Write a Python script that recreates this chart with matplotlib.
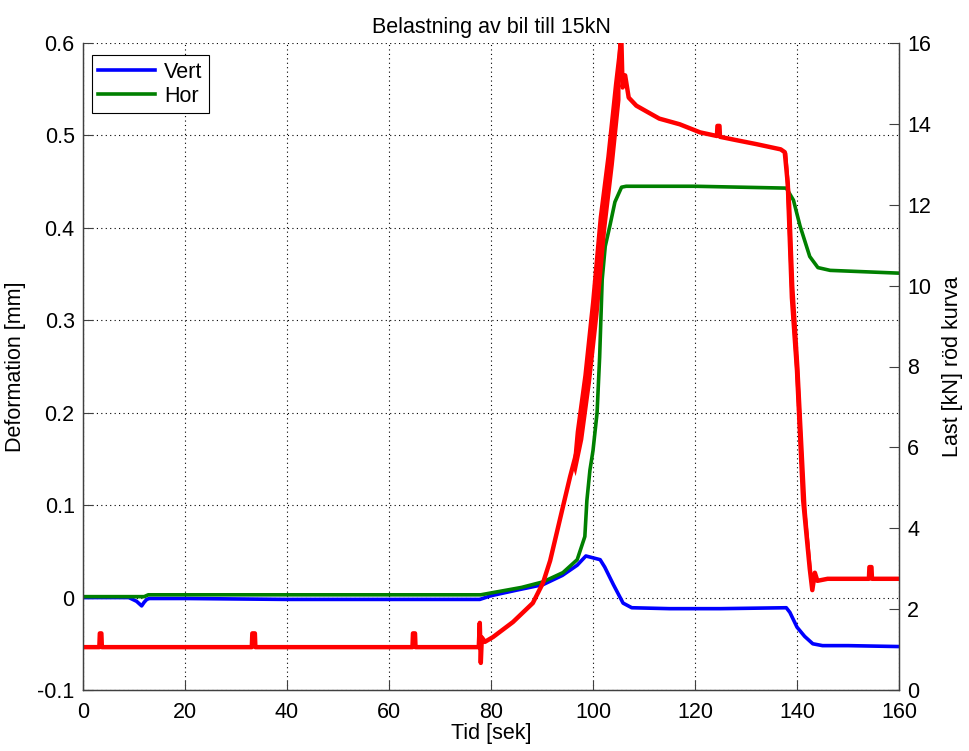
import matplotlib
matplotlib.use("Agg")
import matplotlib.pyplot as plt

plt.rcParams['font.family'] = ['Liberation Sans', 'DejaVu Sans']

# Vert deformation (blue), mm
vert_t = [0, 9, 10.5, 11.5, 12, 12.5, 13, 20, 40, 60, 77.8, 80, 85, 90.2, 94, 96.9,
          98.6, 100, 101.4, 102.3, 104, 105.9, 107.6, 115, 125, 137.9, 138.6, 140,
          141.5, 143.1, 145, 150, 160]
vert_mm = [0.0, 0.0, -0.004, -0.009, -0.005, -0.002, -0.001, -0.001, -0.002, -0.002,
           -0.002, 0.002, 0.008, 0.014, 0.024, 0.035, 0.045, 0.043, 0.041, 0.033,
           0.014, -0.006, -0.011, -0.012, -0.012, -0.011, -0.016, -0.032, -0.042,
           -0.050, -0.052, -0.052, -0.053]

# Hor deformation (green), mm
hor_t = [0, 12, 12.8, 30, 60, 78, 82, 86, 90.2, 94.1, 96.9, 98.4, 98.8, 99.4, 100,
         100.8, 101.3, 101.6, 101.8, 102.4, 103.3, 104.3, 105.6, 106.5, 120, 137.9,
         139.3, 140.6, 142.5, 144.1, 146.5, 160]
hor_mm = [0.001, 0.001, 0.003, 0.003, 0.003, 0.003, 0.007, 0.011, 0.017, 0.027,
          0.041, 0.066, 0.105, 0.138, 0.159, 0.2, 0.26, 0.31, 0.344, 0.380, 0.402,
          0.428, 0.444, 0.445, 0.445, 0.443, 0.430, 0.402, 0.369, 0.357, 0.354, 0.351]

# load (red), kN
load_t = [0, 3.2, 3.3, 3.6, 3.7, 33.1, 33.2, 33.7, 33.8, 64.6, 64.7, 65.1, 65.2,
          77.6, 77.8, 78.0, 78.2, 78.8, 80.4, 84.3, 88.2, 90.2, 91.6, 92.9, 94.1,
          95.5, 96.9, 98.5, 99.9, 101.6, 104.1, 105.2, 105.5, 105.8, 106.3, 107,
          108.5, 110.6, 113, 117, 121, 124.3, 124.4, 124.8, 124.9, 128, 132, 136.8,
          137.6, 138.2, 139, 140, 141.2, 142.5, 143, 143.5, 144, 146, 154.1, 154.2,
          154.6, 154.7, 160]
load_kn = [1.06, 1.06, 1.4, 1.4, 1.06, 1.06, 1.4, 1.4, 1.06, 1.06, 1.4, 1.4, 1.06,
           1.06, 1.66, 0.67, 1.3, 1.19, 1.31, 1.68, 2.15, 2.65, 3.2, 3.89, 4.53,
           5.27, 5.94, 7.4, 8.9, 11.4, 13.9, 15.5, 16.4, 14.9, 15.2, 14.65, 14.45,
           14.3, 14.13, 13.99, 13.79, 13.7, 13.95, 13.95, 13.68, 13.6, 13.5, 13.37,
           13.3, 12.5, 9.7, 7.9, 4.7, 3.0, 2.47, 2.9, 2.7, 2.75, 2.75, 3.04, 3.04,
           2.75, 2.75]

# noisy band of the load during the fast rise
band_t = [96.0, 96.5, 98, 99.5, 101, 102.5, 104, 105.3]
band_lo = [5.5, 5.3, 6.2, 7.6, 9.3, 11.4, 13.0, 14.6]
band_hi = [5.7, 6.4, 7.8, 9.6, 11.7, 13.2, 15.0, 16.4]

# noisy band of the load during unloading
drop_kn = [13.3, 12, 10, 8, 6, 4.5, 3.0]
drop_left = [137.4, 137.9, 138.5, 139.5, 140.3, 141.0, 142.2]
drop_right = [138.0, 138.8, 139.4, 140.4, 141.2, 141.8, 142.8]

xticks = [0, 20, 40, 60, 80, 100, 120, 140, 160]
yticks = [-0.1, 0, 0.1, 0.2, 0.3, 0.4, 0.5, 0.6]
ylabels = ['-0.1', '0', '0.1', '0.2', '0.3', '0.4', '0.5', '0.6']
y2ticks = [0, 2, 4, 6, 8, 10, 12, 14, 16]

fs = 15.5
spc = '#404040'

fig = plt.figure(figsize=(9.69, 7.51), dpi=100)
ax1 = fig.add_axes([83 / 969, 61 / 751, 816 / 969, 647 / 751])
ax2 = ax1.twinx()

l1, = ax1.plot(vert_t, vert_mm, color='#0000ff', lw=2.6)
l2, = ax1.plot(hor_t, hor_mm, color='#008000', lw=2.6)
ax2.plot(load_t, load_kn, color='#ff0000', lw=3.2)
ax2.fill_between(band_t, band_lo, band_hi, color='#ff0000', lw=0)
ax2.fill_betweenx(drop_kn, drop_left, drop_right, color='#ff0000', lw=0)

ax1.set_xlim(0, 160)
ax1.set_ylim(-0.1, 0.6)
ax2.set_ylim(0, 16)
ax1.set_xticks(xticks)
ax1.set_xticklabels([str(v) for v in xticks])
ax1.set_yticks(yticks)
ax1.set_yticklabels(ylabels)
ax2.set_yticks(y2ticks)
ax2.set_yticklabels([str(v) for v in y2ticks])

ax1.grid(True, color='k', linestyle=(0, (1, 3)), lw=0.8)
ax1.tick_params(axis='y', direction='in', length=7, width=0.8, color=spc,
                labelsize=fs, pad=6)
ax1.tick_params(axis='x', direction='in', length=7, width=0.8, color=spc,
                labelsize=fs, top=False, pad=9)
ax2.tick_params(direction='in', length=7, width=0.8, color=spc, labelsize=fs,
                pad=6)

for ax in (ax1, ax2):
    ax.spines['top'].set_visible(False)
    for s in ('left', 'right', 'bottom'):
        ax.spines[s].set_color(spc)
        ax.spines[s].set_linewidth(0.9)

ax1.set_title('Belastning av bil till 15kN', fontsize=fs, pad=7)
ax1.set_xlabel('Tid [sek]', fontsize=fs, labelpad=0)
ax1.set_ylabel('Deformation [mm]', fontsize=fs, labelpad=8)
ax2.set_ylabel('Last [kN] röd kurva', fontsize=fs, labelpad=8)

leg = ax1.legend([l1, l2], ['Vert', 'Hor'], loc='upper left',
                 bbox_to_anchor=(0.011, 0.981), borderaxespad=0, fontsize=fs,
                 handlelength=2.65, fancybox=False, framealpha=1,
                 edgecolor='k', borderpad=0.3, labelspacing=0.15,
                 handletextpad=0.4)
leg.get_frame().set_linewidth(0.8)

fig.savefig('out.png', dpi=100)
